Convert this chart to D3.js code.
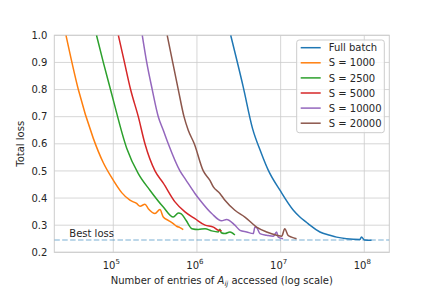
<!DOCTYPE html>
<html>
<head>
<meta charset="utf-8">
<script src="https://cdn.jsdelivr.net/npm/d3@7"></script>
<style>
  body { margin: 0; background: #fff; }
  svg { display: block; font-family: "DejaVu Sans", sans-serif; }
  text { fill: #262626; }
</style>
</head>
<body>
<script>
// series data: [entries accessed, total loss]
var fullBatch = [[2.53e6,1.0],[3.57e6,0.81],[4.62e6,0.656],[5.8e6,0.57],[7.11e6,0.503],[9.81e6,0.429],
  [1.42e7,0.355],[1.7e7,0.33],[2.05e7,0.31],[2.24e7,0.30],[2.95e7,0.275],[3.88e7,0.263],[4.67e7,0.256],
  [6.14e7,0.25],[8.84e7,0.247],[9.25e7,0.256],[1.01e8,0.245],[1.22e8,0.244]];
var s1000 = [[2.72e4,1.0],[3.82e4,0.80],[5.77e4,0.62],[7.6e4,0.53],[9.57e4,0.475],[1.26e5,0.42],[1.58e5,0.392],
  [1.9e5,0.38],[2.09e5,0.37],[2.39e5,0.377],[2.62e5,0.361],[3.15e5,0.343],[3.61e5,0.358],[3.96e5,0.33],
  [4.54e5,0.318],[5.21e5,0.306],[5.72e5,0.296],[6.26e5,0.291],[6.86e5,0.284]];
var s2500 = [[6.3e4,1.0],[7.6e4,0.9],[9.26e4,0.8],[1.0e5,0.761],[1.45e5,0.583],[1.99e5,0.49],[2.74e5,0.429],[3.96e5,0.367],
  [5.21e5,0.33],[6.0e5,0.345],[6.5e5,0.342],[7.4e5,0.318],[8.7e5,0.287],[1.04e6,0.284],[1.25e6,0.287],
  [1.5e6,0.279],[1.8e6,0.275],[1.88e6,0.285],[1.95e6,0.272],[2.16e6,0.269],[2.48e6,0.275],[2.84e6,0.264]];
var s5000 = [[1.15e5,1.0],[1.36e5,0.9],[1.61e5,0.8],[1.99e5,0.7],[2.39e5,0.6],[3.15e5,0.5],[3.96e5,0.455],
  [5.46e5,0.386],[7.19e5,0.349],[9.46e5,0.324],[1.25e6,0.30],[1.57e6,0.293],[1.8e6,0.281],[1.97e6,0.279]];
var s10000 = [[2.22e5,1.0],[2.51e5,0.9],[2.92e5,0.8],[3.45e5,0.7],[3.96e5,0.65],[4.54e5,0.6],[6.26e5,0.5],
  [7.33e5,0.468],[9.46e5,0.417],[1.09e6,0.392],[1.5e6,0.343],
  [1.97e6,0.316],[2.26e6,0.321],[2.84e6,0.30],[3.27e6,0.281],[3.93e6,0.275],[4.71e6,0.269],[4.93e6,0.293],
  [5.21e6,0.29],[5.66e6,0.269],[6.81e6,0.263],[8.17e6,0.259],[8.95e6,0.275],[9.36e6,0.256],[1.07e7,0.25]];
var s20000 = [[4.41e5,1.0],[5.13e5,0.9],[5.98e5,0.8],[7.0e5,0.7],[7.87e5,0.65],[9.29e5,0.6],[1.19e6,0.5],
  [1.43e6,0.465],[1.57e6,0.441],[1.88e6,0.417],[2.16e6,0.392],[2.84e6,0.355],[3.74e6,0.33],[5.16e6,0.293],
  [6.81e6,0.275],[8.95e6,0.263],[1.03e7,0.259],[1.12e7,0.287],[1.23e7,0.262],[1.35e7,0.256],[1.55e7,0.25]];

var seriesNames = ["Full batch", "S = 1000", "S = 2500", "S = 5000", "S = 10000", "S = 20000"];
var seriesData = [fullBatch, s1000, s2500, s5000, s10000, s20000];
var colors = ["#1f77b4", "#ff7f0e", "#2ca02c", "#d62728", "#9467bd", "#8c564b"];
var bestLoss = 0.245;
var yTicks = [0.2, 0.3, 0.4, 0.5, 0.6, 0.7, 0.8, 0.9, 1.0];
var xTicks = [1e5, 1e6, 1e7, 1e8];

var W = 432, H = 288;
var margin = {top: 35.3, right: 42.7, bottom: 35.7, left: 54.3},
    width = W - margin.left - margin.right,
    height = H - margin.top - margin.bottom;

var svg = d3.select("body").append("svg")
    .attr("width", W)
    .attr("height", H);

var g = svg.append("g")
    .attr("transform", "translate(" + margin.left + "," + margin.top + ")");

var x = d3.scaleLog().domain([19720, 1.99e8]).range([0, width]);
var y = d3.scaleLinear().domain([0.2, 1.0]).range([height, 0]);

// grid
g.selectAll(".hgrid").data(yTicks).enter().append("line")
    .attr("x1", 0).attr("x2", width)
    .attr("y1", function(d) { return y(d); }).attr("y2", function(d) { return y(d); })
    .attr("stroke", "#cccccc").attr("stroke-width", 0.8);
g.selectAll(".vgrid").data(xTicks).enter().append("line")
    .attr("y1", 0).attr("y2", height)
    .attr("x1", function(d) { return x(d); }).attr("x2", function(d) { return x(d); })
    .attr("stroke", "#cccccc").attr("stroke-width", 0.8);

// frame
g.append("rect").attr("width", width).attr("height", height)
    .attr("fill", "none").attr("stroke", "#cccccc").attr("stroke-width", 1);

// y tick labels
g.selectAll(".ylab").data(yTicks).enter().append("text")
    .attr("x", -7).attr("y", function(d) { return y(d); })
    .attr("dy", "0.36em")
    .attr("text-anchor", "end")
    .attr("font-size", 10)
    .text(function(d) { return d.toFixed(1); });

// x tick labels 10^n
var xl = g.selectAll(".xlab").data(xTicks).enter().append("text")
    .attr("x", function(d) { return x(d) - 2; })
    .attr("y", height + 16.5)
    .attr("text-anchor", "middle")
    .attr("font-size", 10);
xl.append("tspan").text("10");
xl.append("tspan").attr("font-size", 7).attr("dy", -4.5)
    .text(function(d) { return Math.round(Math.log10(d)); });

// axis labels
var xlabel = svg.append("text")
    .attr("x", margin.left + width / 2)
    .attr("y", 284)
    .attr("text-anchor", "middle")
    .attr("font-size", 10);
xlabel.append("tspan").text("Number of entries of ");
xlabel.append("tspan").attr("font-style", "italic").text("A");
xlabel.append("tspan").attr("font-style", "italic").attr("font-size", 7).attr("dy", 2).text("ij");
xlabel.append("tspan").attr("dy", -2).text(" accessed (log scale)");

svg.append("text")
    .attr("transform", "translate(24," + (margin.top + height / 2) + ") rotate(-90)")
    .attr("text-anchor", "middle")
    .attr("font-size", 10)
    .text("Total loss");

// clip
svg.append("clipPath").attr("id", "clip")
  .append("rect").attr("width", width).attr("height", height);

var plot = g.append("g").attr("clip-path", "url(#clip)");

// best loss line
plot.append("line")
    .attr("x1", 0).attr("x2", width)
    .attr("y1", y(bestLoss)).attr("y2", y(bestLoss))
    .attr("stroke", "#1f77b4").attr("stroke-opacity", 0.4)
    .attr("stroke-width", 1.5).attr("stroke-dasharray", "5.5,2.4");

g.append("text")
    .attr("x", 15).attr("y", y(bestLoss) - 2.8)
    .attr("font-size", 10)
    .text("Best loss");

var line = d3.line()
    .curve(d3.curveMonotoneX)
    .x(function(d) { return x(d[0]); })
    .y(function(d) { return y(d[1]); });

plot.selectAll(".series").data(seriesData).enter().append("path")
    .attr("d", line)
    .attr("fill", "none")
    .attr("stroke", function(d, i) { return colors[i]; })
    .attr("stroke-width", 1.5)
    .attr("stroke-linejoin", "round");

// legend
var lg = svg.append("g").attr("transform", "translate(296.7,40)");
lg.append("rect")
    .attr("width", 87.6).attr("height", 92.7)
    .attr("rx", 2.5).attr("ry", 2.5)
    .attr("fill", "#ffffff").attr("fill-opacity", 0.8)
    .attr("stroke", "#cccccc").attr("stroke-width", 1);
var items = lg.selectAll(".item").data(seriesNames).enter().append("g")
    .attr("transform", function(d, i) { return "translate(0," + (7.7 + i * 15.1) + ")"; });
items.append("line")
    .attr("x1", 4).attr("x2", 24)
    .attr("stroke", function(d, i) { return colors[i]; })
    .attr("stroke-width", 1.5);
items.append("text")
    .attr("x", 32).attr("dy", "0.36em")
    .attr("font-size", 10)
    .text(function(d) { return d; });
</script>
</body>
</html>
